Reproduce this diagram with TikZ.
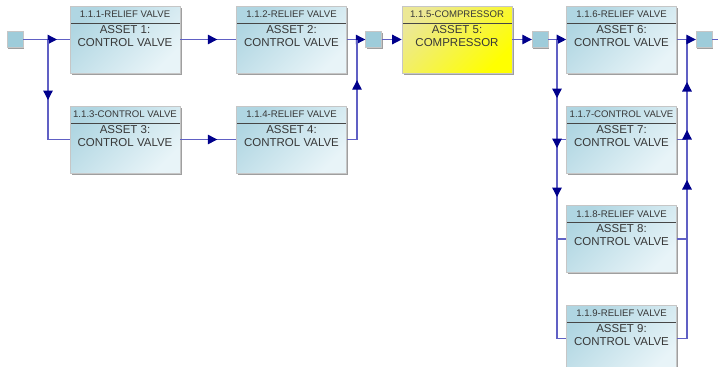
\documentclass[tikz,border=0pt]{standalone}
\usepackage{fontspec}
\setmainfont{Liberation Sans}
\usetikzlibrary{arrows.meta,shadows,decorations.markings}

\definecolor{boxlo}{RGB}{176,214,226}
\definecolor{boxhi}{RGB}{232,244,248}
\definecolor{yello}{RGB}{236,232,150}
\definecolor{yelhi}{RGB}{255,255,0}
\definecolor{sqcol}{RGB}{158,204,218}
\definecolor{wirecol}{RGB}{96,96,196}
\definecolor{tipcol}{RGB}{0,0,140}
\definecolor{txt}{RGB}{56,56,56}

\tikzset{
  asset/.style={draw=gray!45, line width=0.6pt, minimum width=110pt, minimum height=67pt,
    inner sep=0pt, align=center, text=txt, font=\fontsize{11.5}{13}\selectfont, text depth=8pt,
    drop shadow={shadow xshift=1.5pt, shadow yshift=-1.5pt, fill=gray!75, opacity=1},
    top color=boxlo, bottom color=boxhi, shading angle=45,
    path picture={\draw[gray!55!black, line width=0.8pt]
      ([yshift=-17pt]path picture bounding box.north west) --
      ([yshift=-17pt]path picture bounding box.north east);}},
  yellowbox/.style={asset, top color=yello, bottom color=yelhi, shading angle=45},
  hdr/.style={anchor=center, yshift=-8.5pt, inner sep=0pt, text=txt,
    font=\fontsize{9.6}{10}\selectfont},
  sq/.style={draw=gray!45, fill=sqcol, minimum size=16pt, inner sep=0pt,
    drop shadow={shadow xshift=1.2pt, shadow yshift=-1.2pt, fill=gray!75, opacity=1}},
  wire/.style={draw=wirecol, line width=1.3pt},
  endtip/.style={-{Triangle[length=9.5pt,width=9.5pt,color=tipcol]}},
  mk/.style={postaction={decorate, decoration={markings,
    mark=at position #1 with {\arrow{Triangle[length=9.5pt,width=9.5pt,color=tipcol]}}}}}
}

\begin{document}
\begin{tikzpicture}[x=1pt,y=-1pt]
\clip (0,0) rectangle (718,367);

% blocks
\node[sq] (s0) at (15,39.5) {};
\node[asset,label={[hdr,name=h1]north:1.1.1-RELIEF VALVE}] (b1) at (125,39.5) {ASSET 1:\\CONTROL VALVE};
\node[asset,label={[hdr,name=h2]north:1.1.2-RELIEF VALVE}] (b2) at (291.5,39.5) {ASSET 2:\\CONTROL VALVE};
\node[asset,label={[hdr,name=h3]north:1.1.3-CONTROL VALVE}] (b3) at (125,139.5) {ASSET 3:\\CONTROL VALVE};
\node[asset,label={[hdr,name=h4]north:1.1.4-RELIEF VALVE}] (b4) at (291.5,139.5) {ASSET 4:\\CONTROL VALVE};
\node[sq] (s1) at (373.5,39.5) {};
\node[yellowbox,label={[hdr,name=h5]north:1.1.5-COMPRESSOR}] (b5) at (457,39.5) {ASSET 5:\\COMPRESSOR};
\node[sq] (s2) at (540,39.5) {};
\node[asset,label={[hdr,name=h6]north:1.1.6-RELIEF VALVE}] (b6) at (621.5,39.5) {ASSET 6:\\CONTROL VALVE};
\node[asset,label={[hdr,name=h7]north:1.1.7-CONTROL VALVE}] (b7) at (621.5,139.5) {ASSET 7:\\CONTROL VALVE};
\node[asset,label={[hdr,name=h8]north:1.1.8-RELIEF VALVE}] (b8) at (621.5,239) {ASSET 8:\\CONTROL VALVE};
\node[asset,label={[hdr,name=h9]north:1.1.9-RELIEF VALVE}] (b9) at (621.5,338.5) {ASSET 9:\\CONTROL VALVE};
\node[sq] (s3) at (704,39.5) {};

% junctions
\coordinate (j1) at (48,39.5);
\coordinate (j3) at (48,139.5);
\coordinate (j2) at (357,39.5);
\coordinate (j4) at (357,139.5);
\coordinate (j5) at (557,39.5);
\coordinate (j7) at (557,139.5);
\coordinate (j8) at (557,239);
\coordinate (j9) at (557,338.5);
\coordinate (j6) at (687,39.5);
\coordinate (j10) at (687,139.5);
\coordinate (j11) at (687,239);
\coordinate (j12) at (687,338.5);
\coordinate (out) at (718,39.5);

% first stage
\draw[wire] (s0) -- (j1);
\draw[wire,mk=9pt] (j1) -- (b1);
\draw[wire,mk=60.5pt] (j1) -- (j3) -- (b3);
\draw[wire,mk=37pt] (b1) -- (b2);
\draw[wire,mk=37pt] (b3) -- (b4);
\draw[wire,endtip] (b2) -- (s1);
\draw[wire,mk=69.5pt] (b4) -- (j4) -- (j2);

% compressor
\draw[wire,endtip] (s1) -- (b5);
\draw[wire,endtip] (b5) -- (s2);

% last stage
\draw[wire] (s2) -- (j5);
\draw[wire,endtip] (j5) -- (b6);
\draw[wire] (j7) -- (b7);
\draw[wire] (j8) -- (b8);
\draw[wire] (j9) -- (b9);
\draw[wire,mk=58.5pt,mk=108.5pt,mk=157.5pt] (j5) -- (j9);
\draw[wire] (b6) -- (j6);
\draw[wire] (b7) -- (j10);
\draw[wire] (b8) -- (j11);
\draw[wire] (b9) -- (j12);
\draw[wire,mk=158.5pt,mk=208.5pt,mk=256.5pt] (j12) -- (j6);
\draw[wire,endtip] (j6) -- (s3);
\draw[wire] (s3) -- (out);
\end{tikzpicture}
\end{document}
